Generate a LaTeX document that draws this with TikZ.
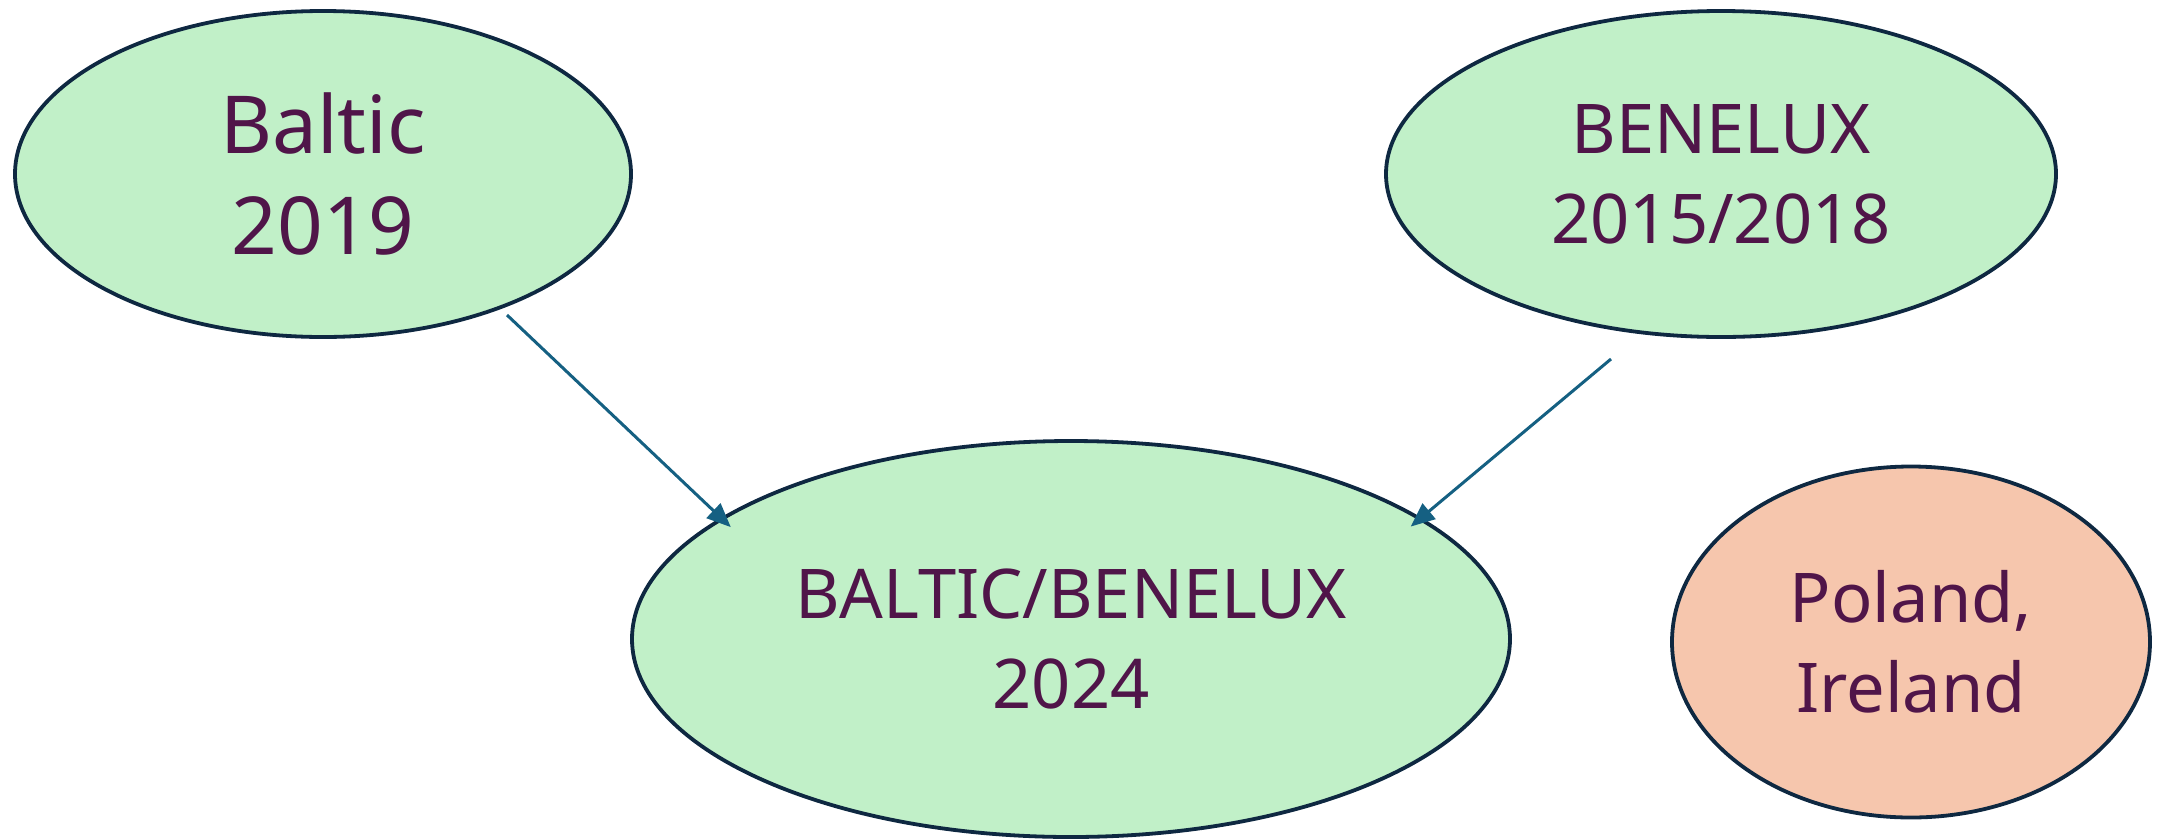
\documentclass[tikz,border=0pt]{standalone}
\usepackage{fontspec}
\setmainfont{Noto Sans}
\usetikzlibrary{shapes.geometric,arrows.meta}
\definecolor{greenfill}{HTML}{C1F0C8}
\definecolor{peachfill}{HTML}{F6C6AD}
\definecolor{edgecol}{HTML}{0E2841}
\definecolor{textcol}{HTML}{501549}
\definecolor{arrowcol}{HTML}{156082}
\tikzset{
  blob/.style={ellipse, draw=edgecol, line width=3.8pt, inner sep=0pt, outer sep=0pt,
    text=textcol, align=center, font=\fontsize{68.6}{90}\selectfont},
  greenblob/.style={blob, fill=greenfill},
  peachblob/.style={blob, fill=peachfill},
  link/.style={draw=arrowcol, line width=3pt, shorten >=-12pt,
    -{Triangle[length=24pt,width=20pt]}}
}
\begin{document}
\begin{tikzpicture}[x=1pt,y=-1pt]
\useasboundingbox (0,0) rectangle (2166,839);
\node[greenblob, minimum width=616pt, minimum height=326pt,
      font=\fontsize{80}{101}\selectfont] (baltic) at (323,174) {Baltic\\2019};
\node[greenblob, minimum width=670pt, minimum height=326pt] (benelux) at (1721,174) {BENELUX\\2015/2018};
\node[greenblob, minimum width=878pt, minimum height=396pt] (big) at (1071,639) {BALTIC/BENELUX\\2024};
\node[peachblob, minimum width=478pt, minimum height=351pt] (poland) at (1911,642) {Poland,\\Ireland};
\coordinate (s1) at (507,315);
\coordinate (s2) at (1611,359);
\draw[link] (s1) -- (big.161.7);
\draw[link] (s2) -- (big.19.4);
\end{tikzpicture}
\end{document}
